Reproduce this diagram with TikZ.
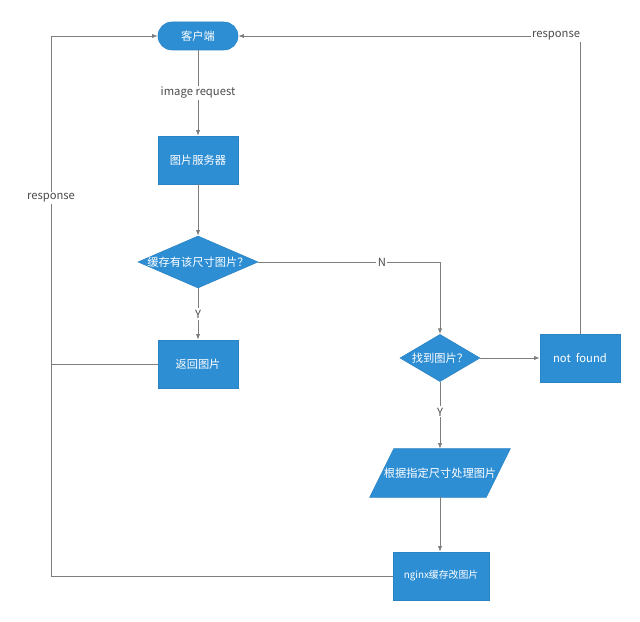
\documentclass[tikz,border=0pt]{standalone}
\usepackage{fontspec}
\newfontfamily\cjkfont{Noto Sans CJK SC}
\usepackage{xcolor}
\definecolor{flowblue}{RGB}{46,142,212}
\definecolor{linegray}{RGB}{125,125,125}
\usepackage{tikz}
\usetikzlibrary{
    arrows.meta,
    positioning,
    shapes.geometric,
    backgrounds
}

\begin{document}
\begin{tikzpicture}[
    x=0.025cm, y=-0.025cm,
    every node/.append style = {font=\cjkfont\fontsize{8}{9}\selectfont},
    termnode/.style = {rectangle, draw=flowblue!92!black, fill=flowblue,
                       text=white, minimum width=2cm, minimum height=0.7cm,
                       rounded corners=3.5mm, inner sep=0pt},
    procnode/.style = {rectangle, draw=flowblue!92!black, fill=flowblue,
                       text=white, minimum width=2cm, minimum height=1.2cm,
                       inner sep=0pt},
    decision/.style = {diamond, draw=flowblue!92!black, fill=flowblue,
                       inner sep=0pt},
    iobox/.style    = {rectangle, text=white, inner sep=0pt,
                       minimum width=2.9cm, minimum height=1.2cm},
    intext/.style   = {text=white},
    arrow/.style    = {-{Latex[length=4pt,width=3pt]}, draw=linegray, semithick},
    line/.style     = {draw=linegray, semithick},
    lbl/.style      = {fill=white, inner sep=1pt, text=black!70}
]
\useasboundingbox (0,0) rectangle (640,622);

% --- Main column ---
\node[termnode] (client) at (198,36)  {客户端};
\node[procnode] (server) at (198,160) {图片服务器};
\node[decision, minimum width=3cm, minimum height=1.3cm,
      label={[intext]center:缓存有该尺寸图片？}] (cache) at (198,262) {};
\node[procnode] (back)   at (198,364) {返回图片};

% --- Right branch ---
\node[decision, minimum width=2cm, minimum height=1.18cm,
      label={[intext]center:找到图片？}] (found) at (440,358) {};
\node[procnode] (notfound) at (580,358) {not\ \ found};
\node[iobox] (proc) at (440,473) {根据指定尺寸处理图片};
\node[procnode, minimum width=2.4cm, font=\cjkfont\fontsize{7}{8}\selectfont]
     (nginx) at (441,576) {nginx缓存改图片};

% parallelogram behind the proc text
\begin{scope}[on background layer]
\filldraw[fill=flowblue, draw=flowblue!92!black]
    ([xshift=-0.3cm]proc.south west) -- ([xshift=-0.3cm]proc.south east)
    -- ([xshift=0.3cm]proc.north east) -- ([xshift=0.3cm]proc.north west) -- cycle;
\end{scope}

% --- Left return rail ---
\coordinate (rail) at (51,36);

% --- Flow ---
\draw[arrow] (client) -- node[lbl]{image\ request} (server);
\draw[arrow] (server) -- (cache);
\draw[arrow] (cache) -- node[lbl]{Y} (back);
\draw[arrow] (cache.east) -| node[lbl, pos=0.34]{N} (found.north);
\draw[arrow] (found) -- (notfound);
\draw[arrow] (found) -- node[lbl, pos=0.45]{Y} (proc);
\draw[arrow] (proc.south) -- (nginx.north -| proc.south);

% --- Responses back to the client ---
\draw[arrow] (notfound.north) |- node[lbl, pos=0.535]{response} (client.east);
\draw[arrow] (nginx.west) -| node[lbl, pos=0.85]{response} (rail) -- (client.west);
\draw[line]  (back.west) -- (back.west -| rail);

\end{tikzpicture}
\end{document}
